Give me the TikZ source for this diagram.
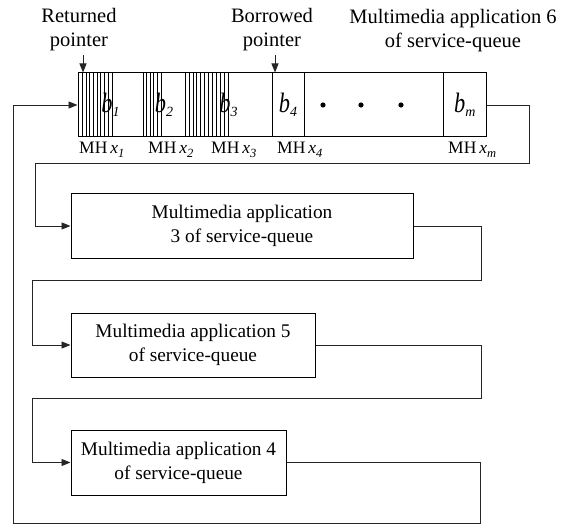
\documentclass[tikz,border=0pt]{standalone}
\usepackage{fontspec}
\setmainfont{Liberation Serif}
\usetikzlibrary{arrows.meta}

% italic cell label with lowered italic index
\newcommand\celllab[2]{\scalebox{0.8}[1]{\fontsize{28}{28}\selectfont\itshape #1}\raisebox{-3.5pt}{\fontsize{14}{14}\selectfont\itshape #2}}
% header label under a cell: MH x_i
\newcommand\mhlab[1]{MH\,{\itshape x}\raisebox{-4.5pt}{\fontsize{12.5}{12.5}\selectfont\itshape #1}}

\tikzset{
  cell/.style={draw, line width=1pt, inner sep=0pt, minimum height=64pt},
  appbox/.style={draw, line width=1pt, inner sep=0pt, align=center,
                 font=\fontsize{19.3}{24}\selectfont},
  toplab/.style={align=center, inner sep=0pt, font=\fontsize{20.5}{24}\selectfont},
  mh/.style={anchor=west, inner sep=0pt, font=\fontsize{17.5}{17.5}\selectfont},
  conn/.style={line width=0.9pt, draw=black!85},
  arr/.style={conn, -{Triangle[length=9pt,width=7pt]}},
  hatch/.style={line width=0.6pt}
}

\begin{document}
\begin{tikzpicture}[x=1pt, y=-1pt]
\useasboundingbox (0,0) rectangle (576,524);

% hatched (occupied) parts of the first three cells
\foreach \hx in {82.3,86,89.7,93.3,96.9,100.5,104.3,108.3,112.7}
  \draw[hatch] (\hx,73) -- (\hx,137);
\foreach \hx in {146.3,150,153.7,157.7,161.7}
  \draw[hatch] (\hx,73) -- (\hx,137);
\foreach \hx in {189,193,196.7,200.7,204.3,208.3,212.7,216.7,220.7,224.7,228.7}
  \draw[hatch] (\hx,73) -- (\hx,137);

% buffer cells of the service queue
\node[cell, minimum width=65pt]   (c1) at (110.5,105) {\celllab{b}{1}};
\node[cell, minimum width=42pt]   (c2) at (164,105)   {\celllab{b}{2}};
\node[cell, minimum width=87pt]   (c3) at (228.5,105) {\celllab{b}{3}};
\node[cell, minimum width=32pt]   (c4) at (288,105)   {\celllab{b}{4}};
\node[cell, minimum width=139pt]  (cd) at (373.5,105) {};
\node[cell, minimum width=43.5pt] (cm) at (464.75,105) {\celllab{b}{m}};

% ellipsis dots
\foreach \dx/\nm in {323/d1,361/d2,401/d3}
  \fill (\dx,105) circle (2.6pt) coordinate (\nm);

% labels under the cells
\node[mh] (l1) at (79,150)  {\mhlab{1}};
\node[mh] (l2) at (148,150) {\mhlab{2}};
\node[mh] (l3) at (211,150) {\mhlab{3}};
\node[mh] (l4) at (277,150) {\mhlab{4}};
\node[mh] (l5) at (448,150) {\mhlab{m}};

% labels above the queue
\node[toplab] (ret) at (79,30)  {Returned\\pointer};
\node[toplab] (bor) at (272,30) {Borrowed\\pointer};
\node[toplab] (ttl) at (453,31) {Multimedia application 6\\of service-queue};

% pointer arrows
\coordinate (rp) at (83,55);
\coordinate (bp) at (275,55);
\draw[arr] (rp) -- (rp |- c1.north);
\draw[arr] (bp) -- (bp |- c4.north);

% the other applications in the service queue
\node[appbox, minimum width=342pt, minimum height=64pt] (app3) at (242,226)
  {Multimedia application\\3 of service-queue};
\node[appbox, minimum width=244pt, minimum height=64pt] (app5) at (193,345)
  {Multimedia application 5\\of service-queue};
\node[appbox, minimum width=215pt, minimum height=65pt] (app4) at (178.5,462.5)
  {Multimedia application 4\\of service-queue};

% round-robin links
\draw[arr] (cm.east) -- (529,105) -- (529,163) -- (35,163) |- (app3.west);
\draw[arr] (app3.east) -- (481,226) -- (481,280) -- (32,280) |- (app5.west);
\draw[arr] (app5.east) -- (481,345) -- (481,398) -- (32,398) |- (app4.west);
\draw[arr] (app4.east) -- (480,462.5) -- (480,523) -- (13,523) |- (c1.west);
\end{tikzpicture}
\end{document}
